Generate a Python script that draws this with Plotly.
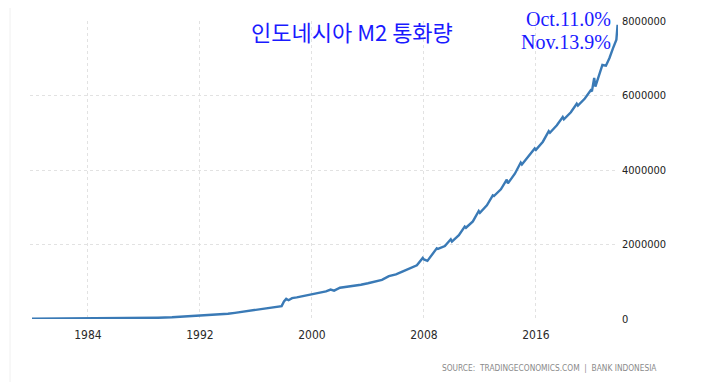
import plotly.graph_objects as go

# ---- data ----
dates = [
    "1980-01", "1981-01", "1982-01", "1983-01", "1984-01", "1985-01", "1986-01", "1987-01",
    "1988-01", "1989-01", "1990-01", "1991-01", "1992-01", "1993-01", "1994-01", "1994-07",
    "1995-01", "1995-07", "1996-01", "1996-07", "1997-01", "1997-07", "1997-11", "1998-01",
    "1998-03", "1998-05", "1998-08", "1998-12", "1999-06", "2000-01", "2000-07", "2001-01",
    "2001-05", "2001-08", "2002-01", "2002-07", "2003-01", "2003-07", "2004-01", "2004-07",
    "2005-01", "2005-07", "2006-01", "2006-07", "2007-01", "2007-07", "2007-12", "2008-01",
    "2008-04", "2008-07", "2008-12", "2009-01", "2009-07", "2009-12", "2010-01", "2010-07",
    "2010-12", "2011-01", "2011-07", "2011-12", "2012-01", "2012-07", "2012-12", "2013-01",
    "2013-07", "2013-12", "2014-01", "2014-07", "2014-12", "2015-01", "2015-07", "2015-12",
    "2016-01", "2016-07", "2016-12", "2017-01", "2017-07", "2017-12", "2018-01", "2018-07",
    "2018-12", "2019-01", "2019-07", "2019-12", "2020-01", "2020-03", "2020-04", "2020-07",
    "2020-10", "2021-01", "2021-04", "2021-07", "2021-10", "2021-11",
]
m2 = [
    5000, 6500, 8000, 10000, 12000, 15000, 18000, 21000,
    25000, 34000, 45000, 66000, 90000, 112000, 140000, 166000,
    190000, 215000, 240000, 265000, 295000, 320000, 345000, 470000,
    540000, 505000, 560000, 580000, 620000, 670000, 700000, 740000,
    790000, 760000, 840000, 860000, 890000, 920000, 960000, 1000000,
    1050000, 1150000, 1200000, 1280000, 1360000, 1440000, 1640000, 1600000,
    1560000, 1700000, 1900000, 1880000, 1960000, 2140000, 2080000, 2250000,
    2480000, 2450000, 2620000, 2900000, 2850000, 3050000, 3320000, 3300000,
    3480000, 3740000, 3640000, 3900000, 4200000, 4150000, 4380000, 4580000,
    4540000, 4760000, 5040000, 5000000, 5200000, 5420000, 5360000, 5550000,
    5780000, 5730000, 5920000, 6140000, 6110000, 6470000, 6240000, 6550000,
    6820000, 6800000, 7000000, 7260000, 7500000, 7900000,
]
y_ticks = [0, 2000000, 4000000, 6000000, 8000000]
y_tick_labels = ["0", "2000000", "4000000", "6000000", "8000000"]
x_ticks = ["1984-01-01", "1992-01-01", "2000-01-01", "2008-01-01", "2016-01-01"]
x_tick_labels = ["1984", "1992", "2000", "2008", "2016"]

title_text = "인도네시아 M2 통화량"
note_lines = ["Oct.11.0%", "Nov.13.9%"]
source_text = "SOURCE:  TRADINGECONOMICS.COM  |  BANK INDONESIA"

fig = go.Figure()
fig.add_trace(go.Scatter(
    x=dates, y=m2, mode="lines",
    line=dict(color="#3a7ab6", width=2.4),
    hoverinfo="skip", showlegend=False,
))

tick_font = dict(family="DejaVu Sans Condensed, Liberation Sans Narrow, Arial", size=12, color="#2a2a2a")

fig.update_layout(
    width=719, height=382,
    margin=dict(l=22, r=109, t=7, b=71),
    paper_bgcolor="white", plot_bgcolor="white",
    xaxis=dict(
        type="date",
        range=["1979-11-10", "2021-11-12"],
        tickvals=x_ticks, ticktext=x_tick_labels,
        showgrid=True, gridcolor="#e2e2e2", griddash="dot", gridwidth=1,
        zeroline=False, showline=False, ticks="",
        tickfont=tick_font,
        ticklabelstandoff=7,
    ),
    yaxis=dict(
        side="right",
        range=[0, 8000000],
        tickvals=y_ticks, ticktext=y_tick_labels,
        showgrid=True, gridcolor="#e2e2e2", griddash="dot", gridwidth=1,
        zeroline=False, showline=False, ticks="",
        tickfont=dict(family="DejaVu Sans Condensed, Liberation Sans Narrow, Arial", size=11, color="#222222"),
        ticklabelstandoff=3,
    ),
    annotations=[
        dict(text=title_text, xref="paper", yref="paper", x=0.547, y=0.965,
             xanchor="center", yanchor="middle", showarrow=False,
             font=dict(family="Noto Sans CJK KR", size=22, color="#1a1aff")),
        dict(text=note_lines[0], xref="paper", yref="paper", x=0.991, y=1.007,
             xanchor="right", yanchor="middle", showarrow=False,
             font=dict(family="Liberation Serif", size=20, color="#1a1aff")),
        dict(text=note_lines[1], xref="paper", yref="paper", x=0.991, y=0.929,
             xanchor="right", yanchor="middle", showarrow=False,
             font=dict(family="Liberation Serif", size=20, color="#1a1aff")),
        dict(text=source_text, xref="paper", yref="paper", x=1.069, y=-0.165,
             xanchor="right", yanchor="middle", showarrow=False,
             font=dict(family="DejaVu Sans Condensed, Arial", size=8.3, color="#8a8a8a")),
    ],
    shapes=[
        dict(type="line", xref="paper", yref="paper", x0=-0.034, x1=-0.034, y0=-0.25, y1=1.05,
             line=dict(color="#f0f0f0", width=1)),
    ],
)

fig.write_html("out.html")
